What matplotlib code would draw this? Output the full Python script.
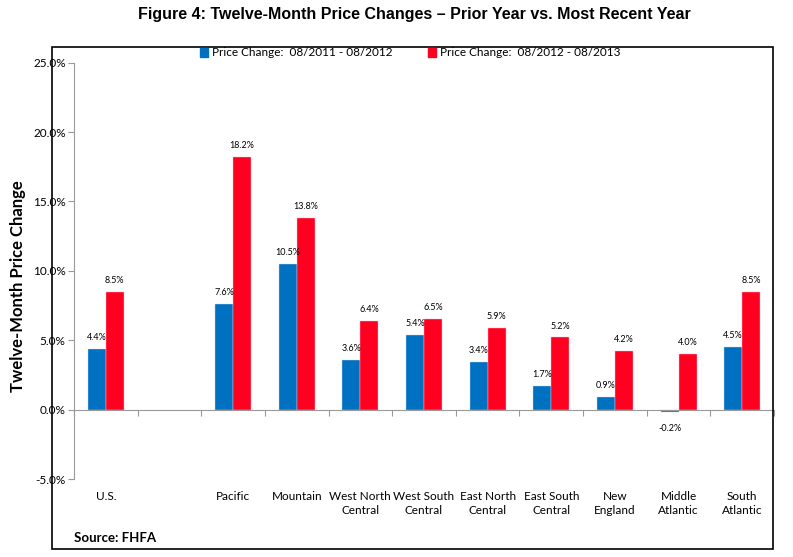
import matplotlib
matplotlib.use('Agg')
import matplotlib.pyplot as plt
import matplotlib.transforms as mtransforms
from matplotlib.patches import Rectangle
import numpy as np

# 数据
regions = ['U.S.', '', 'Pacific', 'Mountain', 'West North\nCentral', 'West South\nCentral',
           'East North\nCentral', 'East South\nCentral', 'New\nEngland', 'Middle\nAtlantic',
           'South\nAtlantic']
change_2012 = [4.4, None, 7.6, 10.5, 3.6, 5.4, 3.4, 1.7, 0.9, -0.2, 4.5]
change_2013 = [8.5, None, 18.2, 13.8, 6.4, 6.5, 5.9, 5.2, 4.2, 4.0, 8.5]
series_names = ['Price Change:  08/2011 - 08/2012', 'Price Change:  08/2012 - 08/2013']
yticks = [-5, 0, 5, 10, 15, 20, 25]

blue = '#0070C0'
red = '#FF0021'
font = ['Lato', 'DejaVu Sans']

fig = plt.figure(figsize=(7.93, 5.57), dpi=100)
ax = fig.add_axes([74 / 793, 1 - 479 / 557, 700 / 793, (479 - 62.7) / 557])

x = np.arange(len(regions))
w = 0.283
for i in range(len(regions)):
    if change_2012[i] is None:
        continue
    ax.bar(x[i] - w / 2, change_2012[i], w, color=blue, edgecolor='#c8d8ec', linewidth=0.3)
    ax.bar(x[i] + w / 2, change_2013[i], w, color=red, edgecolor='#ffc0c8', linewidth=0.3)
    v1 = change_2012[i]
    ax.annotate(f'{v1:.1f}%', (x[i] - w / 2, v1), xytext=(0, 5 if v1 >= 0 else -8),
                textcoords='offset points', ha='center', va='bottom' if v1 >= 0 else 'top',
                fontsize=6.5, family=font)
    v2 = change_2013[i]
    ax.annotate(f'{v2:.1f}%', (x[i] + w / 2, v2), xytext=(0, 5),
                textcoords='offset points', ha='center', va='bottom', fontsize=6.5, family=font)

ax.set_xlim(-0.5, len(regions) - 0.5)
ax.set_ylim(-5, 25)
ax.set_yticks(yticks)
ax.set_yticklabels([f'{t:.1f}%' for t in yticks], family=font, fontsize=8.5)
ax.tick_params(axis='y', length=4, color='#999999', width=0.8, pad=2)

# x轴位于0处
ax.spines['bottom'].set_position(('data', 0))
ax.spines['bottom'].set_color('#999999')
ax.spines['left'].set_color('#999999')
ax.spines['top'].set_visible(False)
ax.spines['right'].set_visible(False)
ax.set_xticks(np.arange(len(regions) + 1) - 0.5)
ax.set_xticklabels([])
ax.tick_params(axis='x', length=4, color='#999999', width=0.8, direction='out')

trans = mtransforms.blended_transform_factory(ax.transData, ax.transAxes)
for i, r in enumerate(regions):
    ax.text(x[i], -0.03, r, transform=trans, ha='center', va='top', fontsize=8.5,
            family=font, linespacing=1.3)

fig.text(18 / 793, 1 - 286 / 557, 'Twelve-Month Price Change', rotation=90, ha='center',
         va='center', fontsize=12, fontweight='bold', family=font)

# 图例
legend_handles = [Rectangle((0, 0), 1, 1, color=blue), Rectangle((0, 0), 1, 1, color=red)]
fig.legend(legend_handles, series_names, loc='center', bbox_to_anchor=(410 / 793, 1 - 53 / 557),
           ncol=2, frameon=False, prop={'family': font, 'size': 8.5}, handlelength=0.7,
           handleheight=0.7, handletextpad=0.3, columnspacing=3.0)

# 外框
fig.add_artist(Rectangle((52 / 793, 1 - 549 / 557), (773 - 52) / 793, (549 - 47) / 557,
                         transform=fig.transFigure, fill=False, edgecolor='black', linewidth=1.2))

fig.text(414 / 793, 1 - 14 / 557, 'Figure 4: Twelve-Month Price Changes – Prior Year vs. Most Recent Year',
         ha='center', va='center', fontsize=11.5, fontweight='bold',
         family=['Liberation Sans Narrow', 'Liberation Sans', 'DejaVu Sans'])
fig.text(74 / 793, 1 - 538 / 557, 'Source: FHFA', ha='left', va='center', fontsize=9.5,
         fontweight='bold', family=font)

fig.savefig('out.png', dpi=100)
